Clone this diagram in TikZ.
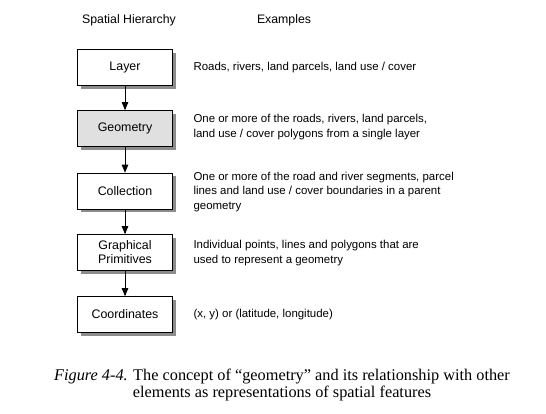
\documentclass[tikz,border=0pt]{standalone}
\usepackage{fontspec}
\setmainfont{Liberation Serif}
\setsansfont{Liberation Sans}
\usetikzlibrary{shapes.geometric, arrows, shadows}
\tikzstyle{arrow} = [thick,-triangle 45]
\tikzstyle{level} = [draw,thick,fill=white,minimum width=95pt,minimum height=36pt,font=\sffamily\fontsize{12.4}{14}\selectfont,align=center,drop shadow={shadow xshift=3pt,shadow yshift=-3pt,fill=black!45,opacity=1}]
\tikzstyle{example} = [anchor=west,align=left,font=\sffamily\fontsize{11.45}{14.5}\selectfont]

\begin{document}
\begin{tikzpicture}[x=1pt,y=-1pt]
	\useasboundingbox (0,0) rectangle (546,413);
	\begin{scope}

		% Headings:
		\node [font=\sffamily\fontsize{12.3}{14}\selectfont] (hier) at (129,20) {Spatial Hierarchy};
		\node [font=\sffamily\fontsize{12.3}{14}\selectfont] (expl) at (284,20) {Examples};

		% Levels:
		\node [level] (layer) at (125,67.5) {Layer};
		\node [level,fill=black!12] (geom) at (125,128.5) {Geometry};
		\node [level] (coll) at (125,191) {Collection};
		\node [level,font=\sffamily\fontsize{12.4}{14}\selectfont] (prim) at (125,252.5) {Graphical\\Primitives};
		\node [level] (coord) at (125,314.5) {Coordinates};

		% Arrows between the levels:
		\draw [arrow] (layer) -- (geom);
		\draw [arrow] (geom) -- (coll);
		\draw [arrow] (coll) -- (prim);
		\draw [arrow] (prim) -- (coord);

		% Examples:
		\node [example] (exlayer) at (190,68) {Roads, rivers, land parcels, land use / cover};
		\node [example] (exgeom) at (190,127) {One or more of the roads, rivers, land parcels,\\land use / cover polygons from a single layer};
		\node [example] (excoll) at (190,192) {One or more of the road and river segments, parcel\\lines and land use / cover boundaries in a parent\\geometry};
		\node [example] (exprim) at (190,253) {Individual points, lines and polygons that are\\used to represent a geometry};
		\node [example] (excoord) at (190,315) {(x, y) or (latitude, longitude)};

		% Caption:
		\node [align=center,font=\fontsize{16.3}{17}\selectfont] (caption) at (282,385) {\textit{Figure 4-4.} The concept of ``geometry'' and its relationship with other\\elements as representations of spatial features};

	\end{scope}
\end{tikzpicture}
\end{document}
